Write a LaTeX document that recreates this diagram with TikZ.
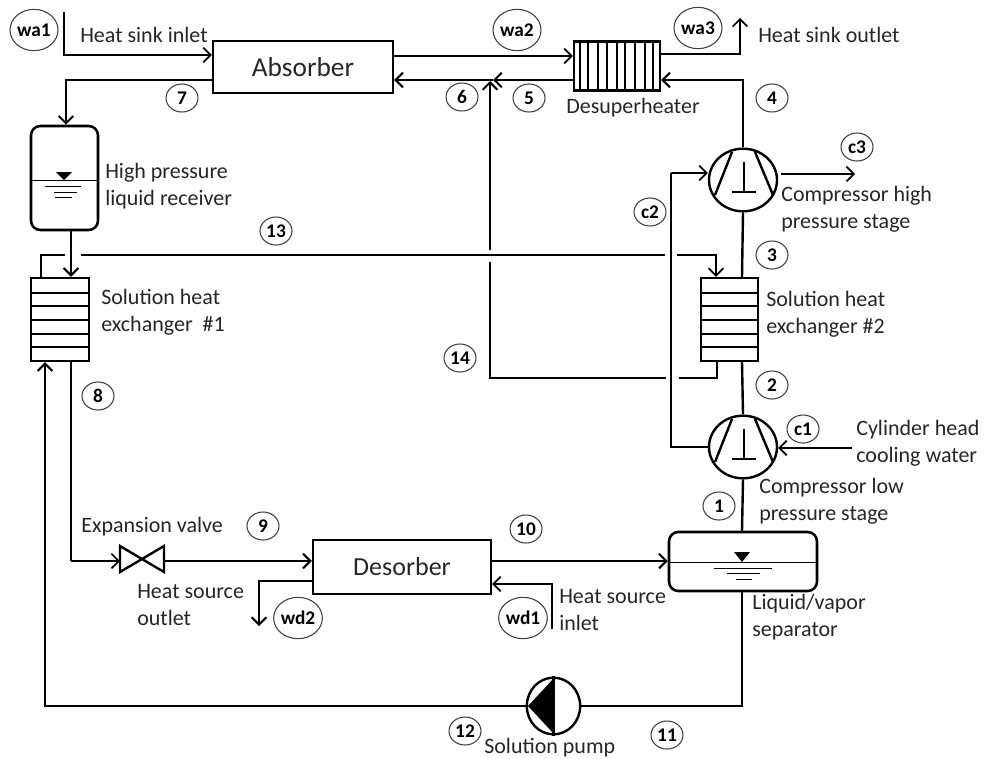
\documentclass[tikz,border=0pt]{standalone}
\usepackage{fontspec}
\setmainfont{Carlito}
\usepackage{xcolor}
\definecolor{inkgray}{RGB}{38,38,38}
\usepackage{tikz}
\usetikzlibrary{arrows.meta,positioning,shapes.geometric,calc}
\tikzset{
    pipe/.style={line width=1.8pt, black},
    thinpipe/.style={line width=1.4pt, black},
    flow/.style={pipe, -{Straight Barb[length=5.5pt,width=11pt,line width=1.5pt]}},
    thinflow/.style={thinpipe, -{Straight Barb[length=5.5pt,width=11pt,line width=1.3pt]}},
    unitbox/.style={draw, line width=1.8pt, inner sep=0pt, text=inkgray},
    vessel/.style={draw, line width=1.9pt, inner sep=0pt, rounded corners=7pt},
    compressor/.style={draw, ellipse, line width=1.8pt, inner sep=0pt, minimum width=51pt, minimum height=47pt},
    lbl/.style={anchor=west, align=left, inner sep=0pt, text=inkgray, font=\fontsize{16.5}{20.25}\selectfont},
    tag/.style={draw=black!75, line width=0.8pt, ellipse, inner sep=0pt, minimum width=24pt, minimum height=21pt, font=\fontsize{14.5}{16}\selectfont\bfseries},
    widetag/.style={tag, minimum width=36pt, minimum height=31pt},
    level/.style={line width=0.7pt, black},
}
\begin{document}
\begin{tikzpicture}[x=0.75pt,y=-0.75pt]
    \useasboundingbox (0,0) rectangle (984,758);

    % Main components
    \node[unitbox, minimum width=135pt, minimum height=39pt, font=\fontsize{20.5}{24}\selectfont] (Absorber) at (303,67) {Absorber};
    \node[unitbox, minimum width=64.5pt, minimum height=37pt] (Desuperheater) at (617,66) {};
    \node[unitbox, minimum width=133.5pt, minimum height=40.5pt, font=\fontsize{19.5}{24}\selectfont] (Desorber) at (402,567) {Desorber};
    \node[unitbox, minimum width=43.5pt, minimum height=62.25pt] (HXone) at (60,319.5) {};
    \node[unitbox, minimum width=42.75pt, minimum height=62.25pt] (HXtwo) at (729.5,319.5) {};
    \node[vessel, minimum width=50.25pt, minimum height=78pt] (Receiver) at (64.5,178) {};
    \node[vessel, minimum width=111pt, minimum height=44.25pt] (Separator) at (743,561.5) {};
    \node[compressor] (CompHigh) at (743,180) {};
    \node[compressor] (CompLow) at (743,447) {};
    \node[draw, ellipse, line width=1.8pt, inner sep=0pt, minimum width=40pt, minimum height=42.5pt] (Pump) at (553.5,706) {};
    \coordinate (Valve) at (142,560);

    % Plates of the heat exchangers
    \foreach \y in {293,306,320,334,347} {
        \draw[pipe] (31,\y) -- (89,\y);
        \draw[pipe] (701,\y) -- (758,\y);
    }
    \foreach \x in {580,588,598,607,617,625,635,645,653}
        \draw[line width=1.2pt] (\x,41) -- (\x,90);

    % Compressor blades and shaft
    \foreach \cy in {180,447} {
        \draw[pipe] (732,\cy-28) -- (715,\cy+15);
        \draw[pipe] (755,\cy-28) -- (773,\cy+15);
        \draw[pipe] (744,\cy-18) -- (744,\cy+12);
        \draw[pipe] (732,\cy+12) -- (756,\cy+12);
    }

    % Liquid levels
    \draw[level] (Receiver.west |- 0,180) -- (Receiver.east |- 0,180);
    \fill (56,172) -- (72,172) -- (64,180) -- cycle;
    \draw[level] (45,186) -- (81,186);
    \draw[level] (54,192) -- (77,192);
    \draw[level] (55,197) -- (72,197);
    \draw[level] (Separator.west |- 0,562) -- (Separator.east |- 0,562);
    \fill (734,552) -- (750,552) -- (742,562) -- cycle;
    \draw[level] (714,568) -- (772,568);
    \draw[level] (727,573) -- (760,573);
    \draw[level] (736,579) -- (752,579);

    % Expansion valve
    \draw[pipe, fill=white] (120,546) -- (164,572) -- (164,546) -- (120,572) -- cycle;

    % Solution pump
    \fill (528,706) -- (554,678) -- (554,734) -- cycle;
    \draw[pipe] (Pump.north) -- (Pump.south);

    % Heat sink water
    \coordinate (SinkIn) at (64,12);
    \coordinate (SinkOut) at (740,18);
    \draw[thinflow] (SinkIn) |- (Absorber.west |- 0,55);
    \draw[thinflow] (Absorber.east |- 0,56) -- (Desuperheater.west |- 0,56);
    \draw[thinflow] (Desuperheater.east |- 0,54) -| (SinkOut);

    % Upper refrigerant path
    \draw[flow] (CompHigh.north) |- (Desuperheater.east |- 0,80);
    \draw[flow] (Desuperheater.west |- 0,80) -- (493,80);
    \draw[flow] (493,80) -- (Absorber.east |- 0,80);
    \draw[flow] (Absorber.west |- 0,80) -| (Receiver.north -| 66,0);
    \draw[flow] (Receiver.south -| 71,0) -- (HXone.north -| 71,0);
    \draw[pipe] (CompHigh.south) -- (HXtwo.north -| 742,0);
    \draw[pipe] (HXtwo.south -| 742,0) -- (CompLow.north);
    \draw[pipe] (CompLow.south) -- (Separator.north -| 742,0);

    % Line 13 with its gaps
    \draw[thinpipe] (HXone.north -| 41,0) |- (65,255);
    \draw[thinpipe] (81,255) -- (665,255);
    \draw[thinflow] (677,255) -| (HXtwo.north -| 716,0);

    % Line 14 with its gaps
    \draw[pipe] (HXtwo.south -| 717,0) |- (679,378);
    \draw[pipe] (666,378) -| (490,262);
    \draw[flow] (490,250) -- (490,81);

    % Cylinder head cooling water
    \coordinate (CoolIn) at (852,448);
    \coordinate (CoolOut) at (855,174);
    \draw[thinflow] (CoolIn) -- (CompLow.east |- CoolIn);
    \draw[thinpipe] (CompLow.west) -| (671,173);
    \draw[thinflow] (671,173) -- (CompHigh.west |- 0,173);
    \draw[thinflow] (781,174) -- (CoolOut);

    % Lower refrigerant path
    \draw[pipe] (HXone.south -| 71,0) -- (71,561);
    \draw[thinflow] (71,561) -- (120,561);
    \draw[flow] (164,561) -- (Desorber.west |- 0,561);
    \draw[flow] (Desorber.east |- 0,561) -- (Separator.west |- 0,561);
    \draw[pipe] (Separator.south -| 742,0) |- (Pump.east);
    \draw[flow] (Pump.west) -| (HXone.south -| 45,0);

    % Heat source water
    \coordinate (SourceIn) at (552,629);
    \coordinate (SourceOut) at (259,626);
    \draw[thinflow] (SourceIn) |- (Desorber.east |- 0,584);
    \draw[flow] (Desorber.west |- 0,581) -| (SourceOut);

    % Text labels
    \node[lbl] (SinkInText) at (80,35) {Heat sink inlet};
    \node[lbl] (SinkOutText) at (758,35) {Heat sink outlet};
    \node[lbl] (DesuperText) at (566,108) {Desuperheater};
    \node[lbl] (ReceiverText) at (105,186) {High pressure\\liquid receiver};
    \node[lbl] (HXoneText) at (101,312) {Solution heat\\exchanger\ \ \#1};
    \node[lbl] (HXtwoText) at (766,314) {Solution heat\\exchanger \#2};
    \node[lbl] (CompHighText) at (781,209) {Compressor high\\pressure stage};
    \node[lbl] (CylinderText) at (856,443) {Cylinder head\\cooling water};
    \node[lbl] (CompLowText) at (759,501) {Compressor low\\pressure stage};
    \node[lbl] (SeparatorText) at (752,617) {Liquid/vapor\\separator};
    \node[lbl] (ValveText) at (81,527) {Expansion valve};
    \node[lbl] (SourceOutText) at (137,605) {Heat source\\outlet};
    \node[lbl] (SourceInText) at (559,610) {Heat source\\inlet};
    \node[lbl] (PumpText) at (484,748) {Solution pump};

    % State point tags
    \node[widetag] (wa1) at (34,30) {wa1};
    \node[widetag] (wa2) at (517,30) {wa2};
    \node[widetag] (wa3) at (698,28) {wa3};
    \node[widetag] (wd1) at (523,618) {wd1};
    \node[widetag] (wd2) at (298,618) {wd2};
    \foreach \nm/\px/\py in {1/719/506,2/772/385,3/772/255,4/772/98,5/529/98,6/462/97,7/182/98,8/98/396,9/263/526,10/526/529,11/667/735,12/465/731,13/276/231,14/460/358,c1/803/429,c2/650/212,c3/857/147}
        \node[tag] (s\nm) at (\px,\py) {\nm};
\end{tikzpicture}
\end{document}
